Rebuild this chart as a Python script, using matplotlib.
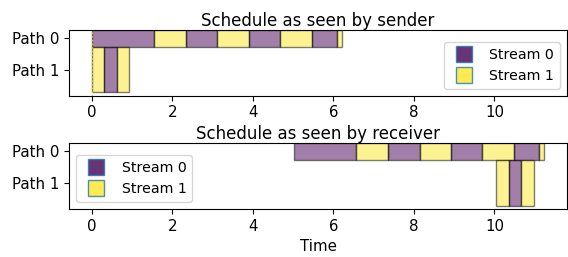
import numpy as np
import matplotlib
matplotlib.use('Agg')
import matplotlib.pyplot as plt
from matplotlib.lines import Line2D

# segment edges on each path (time), and which stream each segment belongs to
sender_p0_edges = [0.0, 1.55, 2.33, 3.12, 3.90, 4.68, 5.46, 6.09, 6.21]
sender_p0_streams = [0, 1, 0, 1, 0, 1, 0, 1]
sender_p1_edges = [0.0, 0.31, 0.62, 0.93]
sender_p1_streams = [1, 0, 1]

receiver_p0_edges = [5.02, 6.57, 7.36, 8.14, 8.92, 9.70, 10.48, 11.10, 11.24]
receiver_p0_streams = [0, 1, 0, 1, 0, 1, 0, 1]
receiver_p1_edges = [10.05, 10.36, 10.66, 10.98]
receiver_p1_streams = [1, 0, 1]

path_labels = ['Path 0', 'Path 1']
stream_labels = ['Stream 0', 'Stream 1']
xticks = [0, 2, 4, 6, 8, 10]

# bar extents per path (bottom, height)
lanes = [(-0.25, 0.53), (0.28, 1.44)]
colors = [plt.cm.viridis(0.0), plt.cm.viridis(1.0)]
fs = 10.8


def draw(ax, paths, title, legend_loc):
    for (edges, streams), (bottom, height) in zip(paths, lanes):
        edges = np.array(edges)
        for i, s in enumerate(streams):
            ax.bar(edges[i], height, width=edges[i + 1] - edges[i], bottom=bottom,
                   align='edge', color=colors[s], edgecolor='black',
                   linewidth=1, alpha=0.5)
    ax.set_yticks([0, 1])
    ax.set_yticklabels(path_labels)
    ax.invert_yaxis()
    ax.set_xticks(xticks)
    ax.set_xlim(-0.56, 11.80)
    ax.set_title(title, fontsize=12, pad=3)
    ax.tick_params(labelsize=fs)
    handles = [Line2D([], [], ls='none', marker='s', markersize=12,
                      markerfacecolor=c, markeredgecolor='#1f77b4', alpha=0.8)
               for c in colors]
    ax.legend(handles, stream_labels, loc=legend_loc, fontsize=fs - 0.6)


fig = plt.figure(figsize=(5.68, 2.57), dpi=100)
ax1 = fig.add_axes([0.122, 0.628, 0.876, 0.254])
ax2 = fig.add_axes([0.122, 0.187, 0.876, 0.256])

draw(ax1, [(sender_p0_edges, sender_p0_streams), (sender_p1_edges, sender_p1_streams)],
     'Schedule as seen by sender', 'lower right')
ax1.axvline(0, color='#e8c81a', ls=':', lw=1)
draw(ax2, [(receiver_p0_edges, receiver_p0_streams), (receiver_p1_edges, receiver_p1_streams)],
     'Schedule as seen by receiver', 'lower left')
ax2.set_xlabel('Time', fontsize=fs, labelpad=4)

fig.savefig('out.png', dpi=100)
